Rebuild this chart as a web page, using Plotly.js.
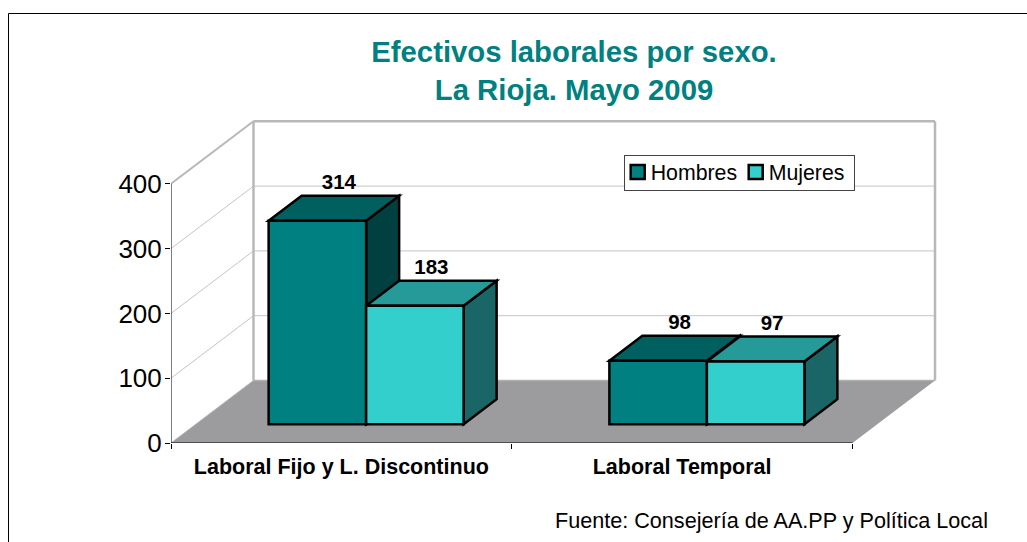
<!DOCTYPE html>
<html><head><meta charset="utf-8">
<script src="https://cdn.plot.ly/plotly-3.0.1.min.js"></script>
<style>html,body{margin:0;padding:0;background:#fff}</style>
</head><body><div id="chart" style="width:1027px;height:542px"></div>
<script>
const categories = ["Laboral Fijo y L. Discontinuo", "Laboral Temporal"];
const hombres = [314, 98];
const mujeres = [183, 97];
const yTicks = [0, 100, 200, 300, 400];
const seriesNames = ["Hombres", "Mujeres"];

const FONT = '"Liberation Sans", Arial, sans-serif';
const W = 1027, H = 542, mL = 171, mB = 99, mT = 118, mR = 87;
const pxPerCat = 340.75, pxPerVal = 0.648;
const plotW = W - mL - mR, plotH = H - mT - mB;
const depthX = 82.5 / pxPerCat, depthY = 62.5 / pxPerVal;
const barW = 97.5 / pxPerCat;
const barDX = 0.4 * depthX, barDY = 0.4 * depthY;
const offX = 0.3 * depthX, offY = 0.3 * depthY;
const centers = categories.map((c, i) => i + 0.5);
const xH = centers.map(c => c + offX - barW);
const xM = centers.map(c => c + offX);
const EDGE = 2.5;

function poly(pts, fill, line, width, layer) {
  const path = pts.map((p, i) => (i ? 'L' : 'M') + p[0] + ',' + p[1]).join(' ') + ' Z';
  return {type: 'path', xref: 'x', yref: 'y', path, fillcolor: fill,
          line: {color: line, width: width}, layer: layer || 'between'};
}
function seg(x0, y0, x1, y1, color, width) {
  return {type: 'line', xref: 'x', yref: 'y', x0, y0, x1, y1, line: {color, width}, layer: 'below'};
}
const shapes = [];
const GRID = '#c4c4c4', WALL = '#b8b8b8', nCat = categories.length;
// floor
shapes.push(poly([[0,0],[nCat,0],[nCat+depthX,depthY],[depthX,depthY]], '#9c9c9e', '#9c9c9e', 0, 'below'));
// grid on side wall and back wall
yTicks.slice(1, -1).forEach(v => {
  shapes.push(seg(0, v, depthX, v + depthY, GRID, 1));
  shapes.push(seg(depthX, v + depthY, nCat + depthX, v + depthY, GRID, 1));
});
// wall frame
const yMax = yTicks[yTicks.length - 1];
shapes.push(seg(0, yMax, depthX, yMax + depthY, WALL, 2));
shapes.push(seg(depthX, yMax + depthY, nCat + depthX, yMax + depthY, WALL, 2.5));
shapes.push(seg(depthX, depthY, depthX, yMax + depthY, WALL, 2.5));
shapes.push(seg(nCat + depthX, depthY, nCat + depthX, yMax + depthY, WALL, 2.5));
shapes.push(seg(depthX, depthY, nCat + depthX, depthY, '#b0b0b0', 1.5));
shapes.push(seg(0, 0, depthX, depthY, '#b4b4b4', 1));

function box3d(x, v, topCol, sideCol) {
  const y0 = offY, y1 = offY + v, x1 = x + barW;
  shapes.push(poly([[x1,y0],[x1+barDX,y0+barDY],[x1+barDX,y1+barDY],[x1,y1]], sideCol, '#000', EDGE));
  shapes.push(poly([[x,y1],[x1,y1],[x1+barDX,y1+barDY],[x+barDX,y1+barDY]], topCol, '#000', EDGE));
}
categories.forEach((c, i) => {
  box3d(xH[i], hombres[i], '#006060', '#004040');
  box3d(xM[i], mujeres[i], '#269999', '#1a6666');
});

// outer frame (paper coordinates)
const fx = px => (px - mL) / plotW, fy = py => (H - mB - py) / plotH;
const frame = {color: '#000', width: 1};
shapes.push({type:'line', xref:'paper', yref:'paper', x0:fx(8.5), x1:fx(8.5), y0:fy(13.5), y1:fy(542), line:frame});
shapes.push({type:'line', xref:'paper', yref:'paper', x0:fx(8.5), x1:fx(1027), y0:fy(13.5), y1:fy(13.5), line:frame});

const gap = 11.5 / pxPerVal;
const labelX = [], labelY = [], labelT = [];
categories.forEach((c, i) => {
  labelX.push(xH[i] + barW / 2 + barDX / 2 + 5 / pxPerCat, xM[i] + barW / 2 + barDX / 2);
  labelY.push(offY + hombres[i] + barDY + gap, offY + mujeres[i] + barDY + gap);
  labelT.push(String(hombres[i]), String(mujeres[i]));
});

const barTrace = (name, xs, vals, color) => ({
  type: 'bar', name, x: xs.map(x => x + barW / 2), y: vals, base: vals.map(() => offY), width: barW,
  marker: {color, line: {color: '#000', width: EDGE}}, hoverinfo: 'name+y'
});
const data = [
  barTrace(seriesNames[0], xH, hombres, '#008080'),
  barTrace(seriesNames[1], xM, mujeres, '#33CFCC'),
  {type:'scatter', mode:'lines', x:[0,0], y:[yTicks[0],yMax], line:{color:'#000',width:1},
   cliponaxis:false, showlegend:false, hoverinfo:'skip'},
  {type:'scatter', mode:'lines', x:[0,nCat], y:[0,0], line:{color:'#000',width:1},
   cliponaxis:false, showlegend:false, hoverinfo:'skip'},
  {type:'scatter', mode:'text', x:labelX, y:labelY, text:labelT, textposition:'middle center',
   textfont:{family:FONT, size:20.5, color:'#000', weight:'bold'}, cliponaxis:false, showlegend:false, hoverinfo:'skip'}
];
const layout = {
  width: W, height: H, autosize: false,
  margin: {l: mL, r: mR, t: mT, b: mB, pad: 0},
  paper_bgcolor: '#fff', plot_bgcolor: 'rgba(0,0,0,0)',
  font: {family: FONT, color: '#000'},
  barmode: 'overlay',
  title: {text: '<b>Efectivos laborales por sexo.<br>La Rioja. Mayo 2009</b>',
          font: {family: FONT, size: 29.3, color: '#008080'},
          x: 574 / W, xref: 'container', xanchor: 'center', y: 1 - 62 / H, yanchor: 'middle'},
  xaxis: {range: [0, plotW / pxPerCat], showgrid: false, zeroline: false, showline: false,
          tickmode: 'array', tickvals: centers, ticktext: categories.map(c => '<b>' + c + '</b>'),
          ticks: '', ticklen: 5, ticklabelstandoff: 8, tickfont: {family: FONT, size: 21.5, color: '#000'},
          minor: {tickmode: 'array', tickvals: [0, 1, 2], ticks: 'outside', ticklen: 5, tickcolor: '#000', tickwidth: 1, showgrid: false}},
  yaxis: {range: [0, plotH / pxPerVal], showgrid: false, zeroline: false, showline: false,
          tickmode: 'array', tickvals: yTicks, ticks: 'outside', ticklen: 5, tickcolor: '#000', tickwidth: 1,
          ticklabelstandoff: -2, tickfont: {family: FONT, size: 26, color: '#000'}},
  showlegend: true,
  legend: {orientation: 'h', x: fx(624), xanchor: 'left', y: fy(154.5), yanchor: 'top',
           bgcolor: '#fff', bordercolor: '#444', borderwidth: 1,
           font: {family: FONT, size: 21.3, color: '#000'}, indentation: -8, traceorder: 'normal'},
  shapes,
  annotations: [{text: 'Fuente: Consejería de AA.PP y Política Local', xref: 'paper', yref: 'paper',
                 x: fx(990), y: fy(520), xanchor: 'right', yanchor: 'middle', showarrow: false,
                 font: {family: FONT, size: 21.6, color: '#000'}}]
};
const gd = document.getElementById('chart');
Plotly.newPlot(gd, data, layout, {displayModeBar: false, staticPlot: true}).then(() => {
  // tighten the native legend's spacing to the compact key of the reference
  const leg = gd.querySelector('.legend');
  if (!leg) return;
  const bg = leg.querySelector('.bg');
  bg.setAttribute('width', 229.5); bg.setAttribute('height', 35);
  const tx = [1.7, 119.7];
  leg.querySelectorAll('.traces').forEach((t, i) => {
    t.setAttribute('transform', 'translate(' + tx[i] + ',17.5)');
    const label = t.querySelector('.legendtext');
    if (label) label.setAttribute('x', 25);
    const p = t.querySelector('.legendpoints path');
    if (p) p.setAttribute('d', 'M7,7H-7V-7H7Z');
  });
});
</script></body></html>
